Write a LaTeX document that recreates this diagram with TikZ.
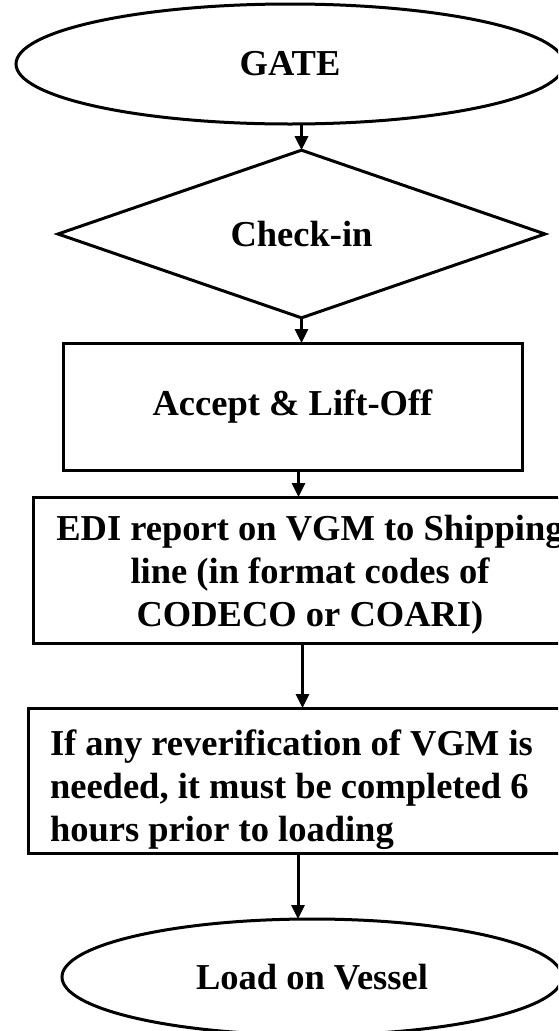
\documentclass[tikz,border=0pt]{standalone}
\usepackage{fontspec}
\setmainfont{Liberation Serif}
\usetikzlibrary{shapes.geometric,arrows.meta}
\tikzset{
  shp/.style={draw=black, line width=3pt, inner sep=0pt, outer sep=0pt,
    font=\bfseries\fontsize{36.5}{43}\selectfont},
  oval/.style={shp, ellipse},
  dia/.style={shp, diamond},
  boxnode/.style={shp, rectangle},
  conn/.style={draw=black, line width=3pt, -{Triangle[length=14pt,width=13pt]}}
}
\begin{document}
\begin{tikzpicture}[x=1pt,y=-1pt]
\clip (0,0) rectangle (558,1031);
\useasboundingbox (0,0) rectangle (558,1031);
\node[oval, minimum width=548pt, minimum height=120pt] (gate) at (290,64) {GATE};
\node[dia, minimum width=487pt, minimum height=116pt] (check) at (301.5,234) {Check-in};
\node[boxnode, minimum width=459pt, minimum height=127pt] (accept) at (292.5,406.5) {Accept \& Lift-Off};
\node[boxnode, minimum width=554pt, minimum height=146pt, text width=530pt, align=flush center] (edi) at (310,570)
  {\rule{0pt}{34pt}EDI report on VGM to Shipping\\ line (in format codes of\\ CODECO or COARI)};
\node[boxnode, minimum width=562pt, minimum height=145pt, text width=518pt, align=flush left] (ifbox) at (309,780.5)
  {\rule{0pt}{44pt}If any reverification of VGM is\\ needed, it must be completed 6\\ hours prior to loading};
\node[oval, minimum width=500pt, minimum height=116pt] (load) at (312,977) {Load on Vessel};
\draw[conn] (check.north |- gate.south) -- (check.north);
\draw[conn] (check.south) -- (check.south |- accept.north);
\draw[conn] ([xshift=6pt]accept.south) -- ([xshift=6pt]accept.south |- edi.north);
\draw[conn] ([xshift=-7.5pt]edi.south) -- ([xshift=-7.5pt]edi.south |- ifbox.north);
\draw[conn] ([xshift=-11pt]ifbox.south) -- ([xshift=-11pt]ifbox.south |- load.north);
\end{tikzpicture}
\end{document}
